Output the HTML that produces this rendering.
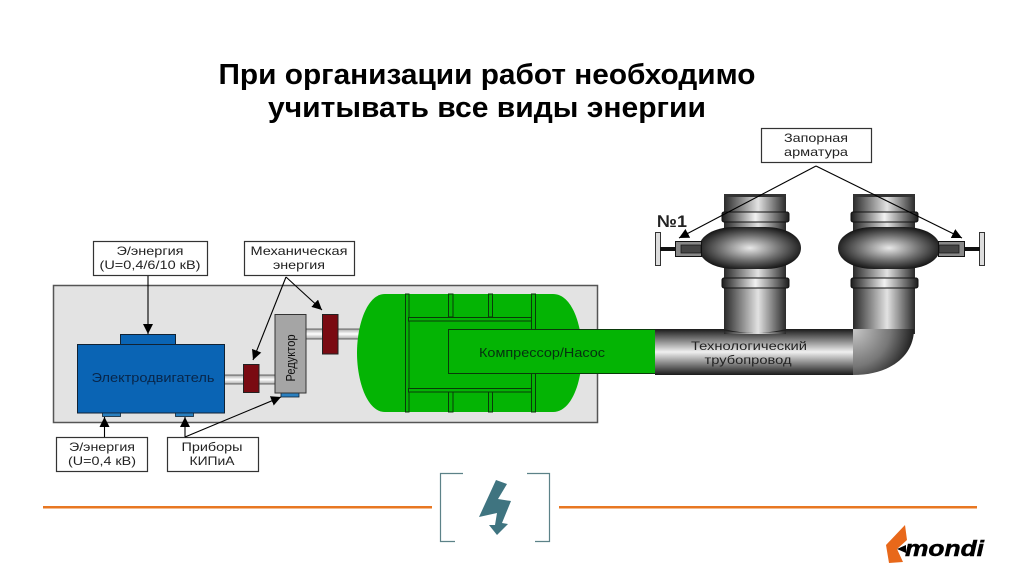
<!DOCTYPE html>
<html><head><meta charset="utf-8"><style>
html,body{margin:0;padding:0;background:#fff}
svg{display:block}
text{font-family:"Liberation Sans",sans-serif}
</style></head><body>
<svg width="1024" height="574" viewBox="0 0 1024 574" xmlns="http://www.w3.org/2000/svg">
<defs>
<linearGradient id="h" x1="0" x2="1" y1="0" y2="0"><stop offset="0" stop-color="#1c1c1c"/><stop offset=".5" stop-color="#f2f2f2"/><stop offset="1" stop-color="#1c1c1c"/></linearGradient>
<linearGradient id="h2" x1="0" x2="1" y1="0" y2="0"><stop offset="0" stop-color="#2a2a2a"/><stop offset=".55" stop-color="#e2e2e2"/><stop offset="1" stop-color="#2a2a2a"/></linearGradient>
<linearGradient id="v" x1="0" x2="0" y1="0" y2="1"><stop offset="0" stop-color="#1a1a1a"/><stop offset=".5" stop-color="#f0f0f0"/><stop offset="1" stop-color="#1a1a1a"/></linearGradient>
<linearGradient id="sh" x1="0" x2="0" y1="0" y2="1"><stop offset="0" stop-color="#aaa"/><stop offset=".5" stop-color="#fff"/><stop offset="1" stop-color="#aaa"/></linearGradient>
<radialGradient id="r" cx=".5" cy=".5" r=".55"><stop offset="0" stop-color="#e8e8e8"/><stop offset=".55" stop-color="#6e6e6e"/><stop offset="1" stop-color="#111"/></radialGradient>
<radialGradient id="elb" gradientUnits="userSpaceOnUse" cx="853" cy="329" r="62"><stop offset="0" stop-color="#c8c8c8"/><stop offset=".6" stop-color="#777"/><stop offset="1" stop-color="#1c1c1c"/></radialGradient>
<marker id="a" markerWidth="12" markerHeight="12" refX="10" refY="5" orient="auto" markerUnits="userSpaceOnUse"><path d="M0 0L10 5L0 10Z" fill="#000"/></marker>
<g id="pipe">
<rect x="724" y="194" width="62" height="140" fill="url(#h2)"/>
<rect x="724" y="194" width="62" height="3" fill="#333"/>
<rect x="722" y="212" width="67" height="10" rx="2" fill="url(#h)" stroke="#111"/>
<rect x="722" y="278" width="67" height="10" rx="2" fill="url(#h)" stroke="#111"/>
</g>
<path id="body" d="M735 227H765C786 227 801 236 801 248C801 260 786 269 765 269H735C714 269 699 260 699 248C699 236 714 227 735 227Z" fill="url(#r)"/>
</defs>

<text x="487" y="84" text-anchor="middle" font-size="29" font-weight="700" textLength="537" lengthAdjust="spacingAndGlyphs">При организации работ необходимо</text>
<text x="487" y="117" text-anchor="middle" font-size="29" font-weight="700" textLength="438" lengthAdjust="spacingAndGlyphs">учитывать все виды энергии</text>

<!-- grey panel -->
<rect x="53.500" y="285.500" width="544" height="137" fill="#e3e3e3" stroke="#555" stroke-width="1.500"/>

<!-- shafts -->
<rect x="224" y="375" width="52" height="9" fill="url(#sh)" stroke="#333" stroke-width=".7"/>
<rect x="306" y="329" width="56" height="10" fill="url(#sh)" stroke="#333" stroke-width=".7"/>

<!-- motor -->
<rect x="120.500" y="334.500" width="55" height="10" fill="#0a64b4" stroke="#123"/>
<rect x="77.500" y="344.500" width="147" height="68.500" fill="#0a64b4" stroke="#123"/>
<rect x="102.500" y="413" width="18" height="3.500" fill="#2a80c0" stroke="#123" stroke-width=".8"/>
<rect x="175.500" y="413" width="18" height="3.500" fill="#2a80c0" stroke="#123" stroke-width=".8"/>
<text x="153" y="382" text-anchor="middle" font-size="12.500" fill="#08264a" textLength="123" lengthAdjust="spacingAndGlyphs">Электродвигатель</text>

<!-- brown couplings -->
<rect x="243.500" y="364.500" width="15.500" height="28" fill="#7a0a12" stroke="#222"/>
<rect x="322.500" y="314.500" width="15.500" height="39.500" fill="#7a0a12" stroke="#222"/>

<!-- reducer -->
<rect x="281" y="393" width="18" height="4" fill="#2a80c0" stroke="#123" stroke-width=".8"/>
<rect x="275" y="314.500" width="31" height="78.500" fill="#a5a5a5" stroke="#333"/>
<text transform="translate(295,358) rotate(-90)" text-anchor="middle" font-size="13" fill="#111" textLength="47" lengthAdjust="spacingAndGlyphs">Редуктор</text>

<!-- compressor -->
<path d="M385 294H553C572 294 582 325 582 353C582 381 572 412 553 412H385C367 412 357 381 357 353C357 325 367 294 385 294Z" fill="#04b404"/>
<g fill="#04b404" stroke="#0a3a0a" stroke-width="1">
<rect x="405.500" y="294" width="3.500" height="118"/>
<rect x="448.500" y="294" width="4.500" height="23"/>
<rect x="488.500" y="294" width="4" height="23"/>
<rect x="531.500" y="294" width="4" height="118"/>
<rect x="448.500" y="392" width="4.500" height="20"/>
<rect x="488.500" y="392" width="4" height="20"/>
<rect x="408.500" y="317.500" width="123" height="3.500"/>
<rect x="408.500" y="388.500" width="123" height="3.500"/>
</g>
<rect x="448.500" y="329.500" width="207" height="44" fill="#04b404" stroke="#0a3a0a"/>
<text x="542" y="357" text-anchor="middle" font-size="12.500" fill="#063010" textLength="126" lengthAdjust="spacingAndGlyphs">Компрессор/Насос</text>

<!-- pipe -->
<rect x="655" y="329" width="198" height="46" fill="url(#v)"/>
<use href="#pipe"/>
<use href="#pipe" x="129" y="0"/>
<path d="M853 329H914C914 356 890 375 853 375Z" fill="url(#elb)"/>
<use href="#body"/>
<use href="#body" x="139" y="0"/>
<path d="M724 329Q755 337 786 329V331Q755 335 724 331Z" fill="#222"/>
<text x="749" y="350" text-anchor="middle" font-size="12" fill="#222" textLength="116" lengthAdjust="spacingAndGlyphs">Технологический</text>
<text x="748" y="364" text-anchor="middle" font-size="12" fill="#222" textLength="87" lengthAdjust="spacingAndGlyphs">трубопровод</text>

<!-- left actuator -->
<rect x="655.500" y="232.500" width="5" height="33" fill="#ddd" stroke="#333"/>
<rect x="660" y="247" width="16" height="4" fill="#111"/>
<rect x="675.500" y="241.500" width="26" height="15" fill="#888" stroke="#111"/>
<rect x="681" y="245" width="20" height="8" fill="#444" stroke="#111" stroke-width=".7"/>
<!-- right actuator -->
<rect x="979.500" y="232.500" width="5" height="33" fill="#ddd" stroke="#333"/>
<rect x="964" y="247" width="16" height="4" fill="#111"/>
<rect x="938.500" y="241.500" width="26" height="15" fill="#888" stroke="#111"/>
<rect x="939" y="245" width="20" height="8" fill="#444" stroke="#111" stroke-width=".7"/>
<text x="657" y="227" font-size="17" font-weight="700" fill="#222" textLength="30" lengthAdjust="spacingAndGlyphs">№1</text>

<!-- boxes -->
<g fill="#fff" stroke="#333" stroke-width="1.200">
<rect x="93.500" y="241.500" width="114" height="34"/>
<rect x="244.500" y="241.500" width="110" height="34"/>
<rect x="56.500" y="437.500" width="91" height="34"/>
<rect x="167.500" y="437.500" width="91" height="34"/>
<rect x="761.500" y="128.500" width="110" height="34"/>
</g>
<g font-size="12" fill="#222" text-anchor="middle">
<text x="150" y="255" textLength="67" lengthAdjust="spacingAndGlyphs">Э/энергия</text>
<text x="150" y="269" textLength="101" lengthAdjust="spacingAndGlyphs">(U=0,4/6/10 кВ)</text>
<text x="299" y="255" textLength="97" lengthAdjust="spacingAndGlyphs">Механическая</text>
<text x="299" y="269" textLength="52" lengthAdjust="spacingAndGlyphs">энергия</text>
<text x="102" y="451" textLength="66" lengthAdjust="spacingAndGlyphs">Э/энергия</text>
<text x="102" y="465" textLength="68" lengthAdjust="spacingAndGlyphs">(U=0,4 кВ)</text>
<text x="212" y="451" textLength="61" lengthAdjust="spacingAndGlyphs">Приборы</text>
<text x="212" y="465" textLength="45" lengthAdjust="spacingAndGlyphs">КИПиА</text>
<text x="816" y="142" textLength="64" lengthAdjust="spacingAndGlyphs">Запорная</text>
<text x="816" y="156" textLength="64" lengthAdjust="spacingAndGlyphs">арматура</text>
</g>

<!-- arrows -->
<g stroke="#000" stroke-width="1.100" fill="none" marker-end="url(#a)">
<path d="M148 276V334"/>
<path d="M286 277L253 360"/>
<path d="M286 277L322 310"/>
<path d="M104.500 437V417"/>
<path d="M185 437V417"/>
<path d="M185 437L281 397"/>
<path d="M816 166L679 238"/>
<path d="M816 166L962 238"/>
</g>

<!-- footer -->
<rect x="43" y="506" width="389" height="2.500" fill="#e87722"/>
<rect x="559" y="506" width="418" height="2.500" fill="#e87722"/>
<path d="M463 473.500H440.500V541.500H455M527 473.500H549.500V541.500H535" fill="none" stroke="#5c8288" stroke-width="1.200"/>
<path d="M496 480L507 484L498 499L511 501L502 523L508 524L497 535L489 525L495 525L497 513L479 517Z" fill="#3f7480"/>

<!-- logo -->
<path d="M905 525L907 540L897 549L903 562L889 563L886 545Z" fill="#e8681a"/>
<path d="M897 549L906 545V553Z" fill="#000"/>
<text x="905" y="556" font-size="22" font-weight="700" font-style="italic" fill="#000" stroke="#000" stroke-width=".5" textLength="79" lengthAdjust="spacingAndGlyphs">mondi</text>
</svg>
</body></html>
